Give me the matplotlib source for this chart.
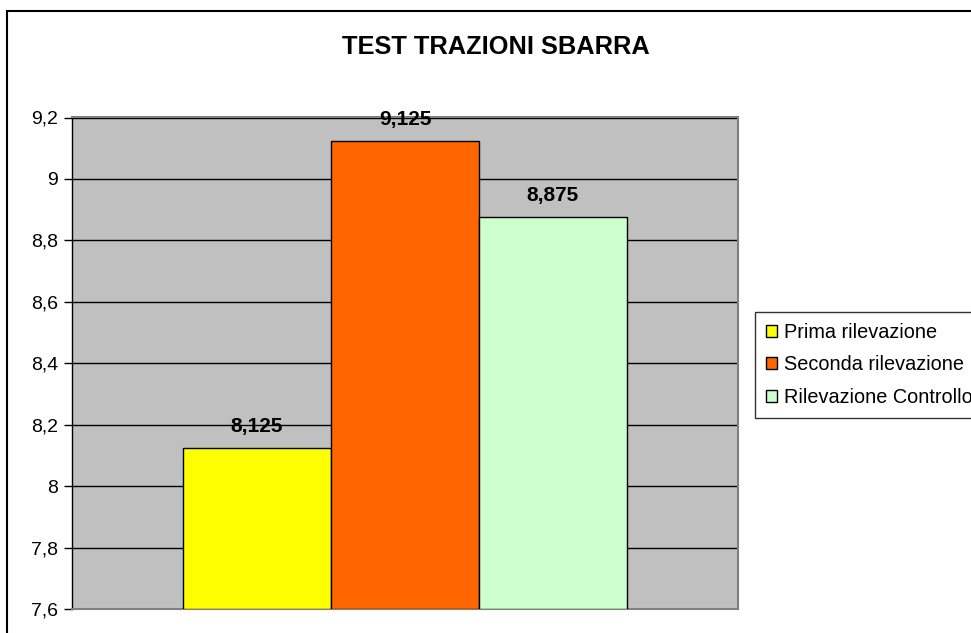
import matplotlib
matplotlib.use("Agg")
import matplotlib.pyplot as plt
from matplotlib.patches import Rectangle
from matplotlib.ticker import FuncFormatter

plt.rcParams['font.family'] = ['Liberation Sans', 'DejaVu Sans']

series = ['Prima rilevazione', 'Seconda rilevazione', 'Rilevazione Controllo']
values = [8.125, 9.125, 8.875]
colors = ['#FFFF00', '#FF6600', '#CCFFCC']
value_labels = ['8,125', '9,125', '8,875']
yticks = [7.6, 7.8, 8.0, 8.2, 8.4, 8.6, 8.8, 9.0, 9.2]

W, H = 971, 633
fig = plt.figure(figsize=(W / 100, H / 100), dpi=100)
ax = fig.add_axes([72 / W, 1 - 609 / H, (738 - 72) / W, (609 - 117.5) / H])
ax.set_facecolor('#C0C0C0')

bar_w = 0.2222
positions = [-bar_w, 0, bar_w]
handles = []
for pos, val, col, lab, txt in zip(positions, values, colors, series, value_labels):
    b = ax.bar(pos, val - 7.6, bottom=7.6, width=bar_w, color=col,
               edgecolor='black', linewidth=1, label=lab, zorder=3)
    handles.append(b)
    ax.annotate(txt, (pos, val), xytext=(0, 12), textcoords='offset pixels',
                ha='center', va='bottom', fontsize=15, fontweight='bold', zorder=4)

ax.set_xlim(-0.5, 0.5)
ax.set_ylim(7.6, 9.2)
ax.set_yticks(yticks)
ax.yaxis.set_major_formatter(FuncFormatter(lambda v, p: ('%g' % round(v, 1)).replace('.', ',')))
ax.yaxis.grid(True, color='black', linewidth=1)
ax.set_axisbelow(True)
ax.set_xticks([])
ax.tick_params(axis='y', direction='out', length=6, width=1, labelsize=14, pad=4)

for side in ['top', 'right', 'bottom']:
    ax.spines[side].set_color('#808080')
    ax.spines[side].set_linewidth(1.5)
ax.spines['left'].set_color('black')
ax.spines['left'].set_linewidth(1)

fig.text(496 / W, 1 - 47 / H, 'TEST TRAZIONI SBARRA', ha='center', va='center',
         fontsize=18.3, fontweight='bold')

leg = fig.legend(handles=handles, labels=series, loc='upper left',
                 bbox_to_anchor=(755 / W, 1 - 312 / H), fontsize=14.3,
                 frameon=True, fancybox=False, edgecolor='black',
                 handlelength=0.55, handleheight=0.55, handletextpad=0.35,
                 labelspacing=0.68, borderpad=0.55, borderaxespad=0)
leg.get_frame().set_linewidth(1)

# figure border (the chart area is cropped on the right and bottom)
fig.add_artist(Rectangle((7 / W, -0.1), 2, 1 - 11 / H + 0.1, transform=fig.transFigure,
                         fill=False, edgecolor='black', linewidth=1.5))

fig.savefig('out.png', dpi=100)
